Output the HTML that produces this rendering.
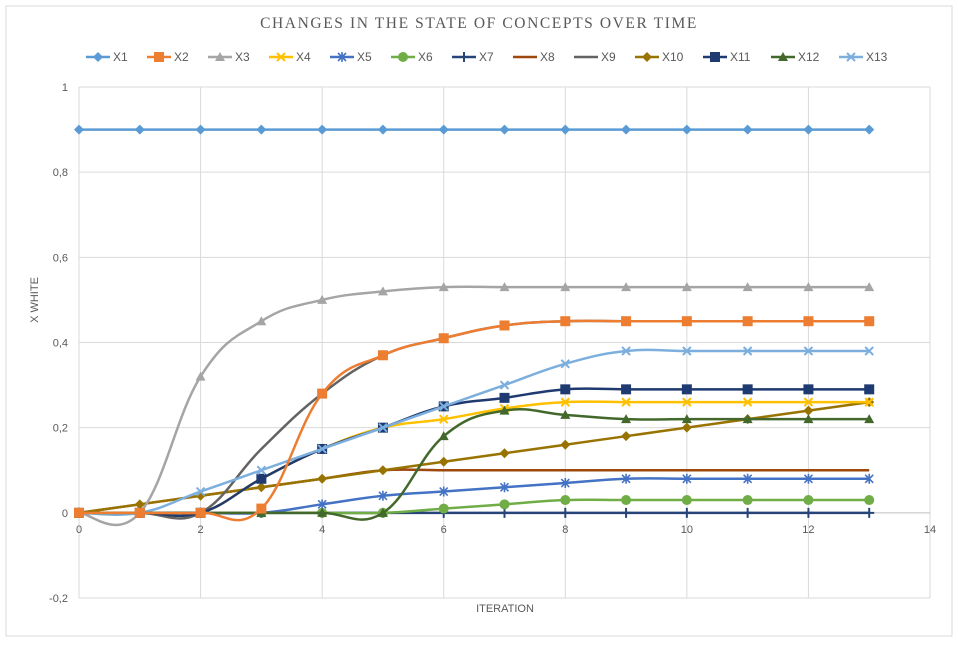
<!DOCTYPE html>
<html><head><meta charset="utf-8"><style>
body{margin:0;background:#fff;}
svg text{font-family:"Liberation Sans",sans-serif;}
</style></head><body>
<svg width="958" height="642" viewBox="0 0 958 642">
<rect x="6" y="6" width="946" height="630" fill="#fff" stroke="#d9d9d9"/>
<text x="479" y="28" text-anchor="middle" font-size="15.5" fill="#595959" style="font-family:'Liberation Serif',serif;letter-spacing:1.6px">CHANGES IN THE STATE OF CONCEPTS OVER TIME</text>
<g id="grid"></g><g id="axes"></g><g id="series"></g><g id="legend"></g>
<text x="505" y="612" text-anchor="middle" font-size="11" fill="#595959">ITERATION</text>
<text transform="translate(38,300) rotate(-90)" text-anchor="middle" font-size="11" fill="#595959">X WHITE</text>
</svg>
<script>
const xs=[0,1,2,3,4,5,6,7,8,9,10,11,12,13];
const names=["X1","X2","X3","X4","X5","X6","X7","X8","X9","X10","X11","X12","X13"];
const x1=[0.9,0.9,0.9,0.9,0.9,0.9,0.9,0.9,0.9,0.9,0.9,0.9,0.9,0.9];
const x2=[0,0,0,0.01,0.28,0.37,0.41,0.44,0.45,0.45,0.45,0.45,0.45,0.45];
const x3=[0,0,0.32,0.45,0.5,0.52,0.53,0.53,0.53,0.53,0.53,0.53,0.53,0.53];
const x4=[0,0,0,0.08,0.15,0.2,0.22,0.245,0.26,0.26,0.26,0.26,0.26,0.26];
const x5=[0,0,0,0,0.02,0.04,0.05,0.06,0.07,0.08,0.08,0.08,0.08,0.08];
const x6=[0,0,0,0,0,0,0.01,0.02,0.03,0.03,0.03,0.03,0.03,0.03];
const x7=[0,0,0,0,0,0,0,0,0,0,0,0,0,0];
const x8=[0,0.02,0.04,0.06,0.08,0.1,0.1,0.1,0.1,0.1,0.1,0.1,0.1,0.1];
const x9=[0,0,0,0.15,0.28,0.37,0.41,0.44,0.45,0.45,0.45,0.45,0.45,0.45];
const x10=[0,0.02,0.04,0.06,0.08,0.1,0.12,0.14,0.16,0.18,0.2,0.22,0.24,0.26];
const x11=[0,0,0,0.08,0.15,0.2,0.25,0.27,0.29,0.29,0.29,0.29,0.29,0.29];
const x12=[0,0,0,0,0,0,0.18,0.24,0.23,0.22,0.22,0.22,0.22,0.22];
const x13=[0,0,0.05,0.1,0.15,0.2,0.25,0.3,0.35,0.38,0.38,0.38,0.38,0.38];
const xTicks=[0,2,4,6,8,10,12,14];
const yTicks=[-0.2,0,0.2,0.4,0.6,0.8,1];
const yLabels=["-0,2","0","0,2","0,4","0,6","0,8","1"];
const seriesData=[x1,x2,x3,x4,x5,x6,x7,x8,x9,x10,x11,x12,x13];
const colors=["#5b9bd5","#ed7d31","#a5a5a5","#ffc000","#4472c4","#70ad47","#264478","#9e480e","#636363","#997300","#1f3a70","#43682b","#7cafdd"];
const markers=["diamond","square","triangle","x","star","circle","plus","none","none","diamond","square","triangle","x"];
const L=79,R=930,T=87,B=598;
const sx=v=>L+(v-0)/(14-0)*(R-L);
const sy=v=>B-(v+0.2)/1.2*(B-T);
const NS="http://www.w3.org/2000/svg";
function mk(tag,attrs,parent){const e=document.createElementNS(NS,tag);for(const k in attrs)e.setAttribute(k,attrs[k]);parent.appendChild(e);return e;}
const grid=document.getElementById('grid'),axes=document.getElementById('axes'),ser=document.getElementById('series'),leg=document.getElementById('legend');
xTicks.forEach(t=>{
 const l=mk('line',{x1:sx(t),x2:sx(t),y1:T,y2:B,stroke:'#d9d9d9'},grid);
 
 
 const tx=mk('text',{x:sx(t),y:sy(0)+20,'text-anchor':'middle','font-size':11,fill:'#595959'},axes);
 tx.textContent=t;
 
 
});
yTicks.forEach((t,i)=>{
 const l=mk('line',{x1:L,x2:R,y1:sy(t),y2:sy(t),stroke:t===0?'#bfbfbf':'#d9d9d9'},grid);
 
 
 const tx=mk('text',{x:68,y:sy(t)+4,'text-anchor':'end','font-size':11,fill:'#595959'},axes);
 tx.textContent=yLabels[i];
 
 
});
function smoothPath(pts){
 let d=`M${pts[0][0]},${pts[0][1]}`;
 for(let i=0;i<pts.length-1;i++){
  const p0=pts[Math.max(0,i-1)],p1=pts[i],p2=pts[i+1],p3=pts[Math.min(pts.length-1,i+2)];
  const c1=[p1[0]+(p2[0]-p0[0])/5,p1[1]+(p2[1]-p0[1])/5];
  const c2=[p2[0]-(p3[0]-p1[0])/5,p2[1]-(p3[1]-p1[1])/5];
  d+=` C${c1[0]},${c1[1]} ${c2[0]},${c2[1]} ${p2[0]},${p2[1]}`;
 }
 return d;
}
function marker(type,x,y,c,parent){
 let e;
 if(type==='diamond')e=mk('polygon',{points:`${x},${y-5} ${x+5},${y} ${x},${y+5} ${x-5},${y}`,fill:c},parent);
 else if(type==='square')e=mk('rect',{x:x-5,y:y-5,width:10,height:10,fill:c},parent);
 else if(type==='triangle')e=mk('polygon',{points:`${x},${y-5} ${x+5},${y+4} ${x-5},${y+4}`,fill:c},parent);
 else if(type==='x')e=mk('path',{d:`M${x-4},${y-4}L${x+4},${y+4}M${x-4},${y+4}L${x+4},${y-4}`,stroke:c,'stroke-width':2},parent);
 else if(type==='star')e=mk('path',{d:`M${x-4},${y-4}L${x+4},${y+4}M${x-4},${y+4}L${x+4},${y-4}M${x},${y-5}L${x},${y+5}`,stroke:c,'stroke-width':1.6},parent);
 else if(type==='circle')e=mk('circle',{cx:x,cy:y,r:5,fill:c},parent);
 else if(type==='plus')e=mk('path',{d:`M${x-5},${y}L${x+5},${y}M${x},${y-5}L${x},${y+5}`,stroke:c,'stroke-width':2},parent);
 return e;
}
[7,6,5,4,9,8,3,10,12,11,2,1,0].forEach(si=>{
 const vals=seriesData[si];
 const g=mk('g',{},ser);
 
 
 const pts=vals.map((v,i)=>[sx(xs[i]),sy(v)]);
 const p=mk('path',{d:smoothPath(pts),fill:'none',stroke:colors[si],'stroke-width':2.5},g);
 
 
 pts.forEach(pt=>{
  const m=marker(markers[si],pt[0],pt[1],colors[si],g);
  if(m){
   
   
  }
 });
});
let lx=86;
names.forEach((n,i)=>{
 const g=mk('g',{},leg);
 
 
 mk('line',{x1:lx,x2:lx+24,y1:57,y2:57,stroke:colors[i],'stroke-width':2.5},g);
 marker(markers[i],lx+12,57,colors[i],g);
 const t=mk('text',{x:lx+27,y:61,'font-size':12,fill:'#595959'},g);
 t.textContent=n;
 lx+=27+(n.length>2?27:20)+14;
});
</script>
</body></html>
